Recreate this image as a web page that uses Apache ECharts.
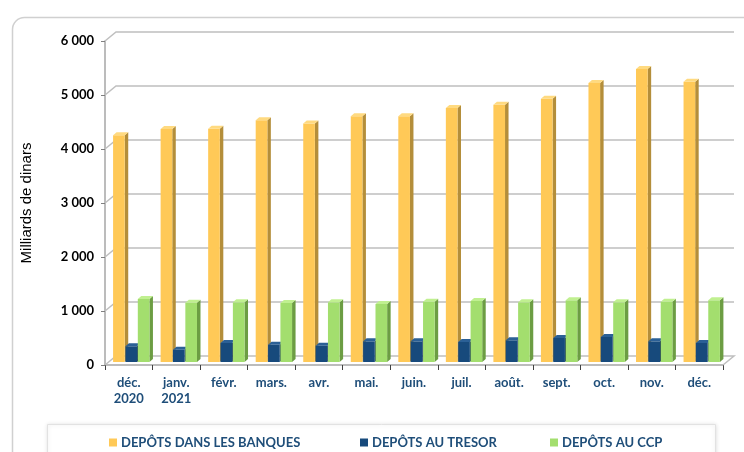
<!DOCTYPE html>
<html>
<head>
<meta charset="utf-8">
<script src="https://cdn.jsdelivr.net/npm/echarts@6/dist/echarts.min.js"></script>
<style>
  html, body { margin: 0; padding: 0; background: #fff; }
  #main { width: 744px; height: 452px; }
</style>
</head>
<body>
<div id="main"></div>
<script>
// mois
const months = ['déc.\n2020', 'janv.\n2021', 'févr.', 'mars.', 'avr.', 'mai.', 'juin.', 'juil.', 'août.', 'sept.', 'oct.', 'nov.', 'déc.'];
// dépôts (milliards de dinars)
const banques = [4200, 4315, 4320, 4475, 4415, 4550, 4550, 4705, 4765, 4875, 5165, 5425, 5190];
const tresor = [291, 228, 352, 320, 302, 383, 383, 370, 402, 444, 463, 383, 352];
const ccp = [1167, 1098, 1105, 1093, 1105, 1074, 1117, 1130, 1105, 1143, 1105, 1117, 1143];
const yTicks = [0, 1000, 2000, 3000, 4000, 5000, 6000];

const names = ['DEPÔTS DANS LES BANQUES', 'DEPÔTS AU TRESOR', 'DEPÔTS AU CCP'];
const blue = '#1F4E79';
const font = 'Lato';

// couleurs face / côté / dessus
const faces = [
  { front: '#FFC957', side: '#B48E3A', top: '#FFDA80' },
  { front: '#174A7C', side: '#0D2E50', top: '#2B6096' },
  { front: '#A3DE6E', side: '#6C9D43', top: '#C0F090' }
];

const DX = 11, DY = -9;   // décalage du mur du fond
const dx = 3.5, dy = -3;  // profondeur des barres

function cuboid(idx) {
  return function (params, api) {
    const i = api.value(0);
    const v = api.value(1);
    const band = api.size([1, 0])[0];
    const c = api.coord([i, v]);
    const b = api.coord([i, 0]);
    const w = band * 0.245;
    const x0 = c[0] - band * 0.33 + idx * band * 0.26;
    const x1 = x0 + w;
    const yt = c[1] - 3;
    const yb = b[1] - 3;
    const f = faces[idx];
    return {
      type: 'group',
      children: [
        { type: 'polygon', shape: { points: [[x1, yb], [x1 + dx, yb + dy], [x1 + dx, yt + dy], [x1, yt]] }, style: { fill: f.side } },
        { type: 'rect', shape: { x: x0, y: yt, width: w, height: yb - yt }, style: { fill: f.front } },
        { type: 'polygon', shape: { points: [[x0, yt], [x0 + dx, yt + dy], [x1 + dx, yt + dy], [x1, yt]] }, style: { fill: f.top } }
      ]
    };
  };
}

function wall(params, api) {
  const v = api.value(0);
  const band = api.size([1, 0])[0];
  const p0 = api.coord([0, v]);
  const p1 = api.coord([months.length - 1, v]);
  const l = p0[0] - band / 2;
  const r = p1[0] + band / 2;
  const y = p0[1];
  const pts = v === 0
    ? [[l, y], [l + DX, y + DY], [r + DX, y + DY], [r, y]]
    : [[l, y], [l + DX, y + DY], [r + DX, y + DY]];
  return {
    type: 'polyline',
    shape: { points: pts },
    style: { stroke: '#BFBFBF', lineWidth: 1.5, fill: null }
  };
}

const chart = echarts.init(document.getElementById('main'));

const option = {
  animation: false,
  backgroundColor: '#fff',
  graphic: [
    { type: 'rect', left: 10, top: 15, shape: { width: 770, height: 470, r: 12 }, style: { fill: 'none', stroke: '#D0D0D0', lineWidth: 1.5 }, z: -10 },
    { type: 'rect', left: 47, top: 424, shape: { width: 668, height: 40 }, style: { fill: '#fff', stroke: '#E2E2E2', lineWidth: 1, shadowBlur: 4, shadowColor: 'rgba(0,0,0,0.12)' }, z: -5 }
  ],
  grid: { left: 105, top: 41, width: 618, height: 324 },
  legend: [
    { left: 104, top: 431, data: [names[0]] },
    { left: 355, top: 431, data: [names[1]] },
    { left: 545, top: 431, data: [names[2]] }
  ].map(l => Object.assign(l, {
    icon: 'rect', itemWidth: 8, itemHeight: 8, itemGap: 4,
    textStyle: { color: blue, fontWeight: 'bold', fontSize: 13, fontFamily: font, padding: [0, 0, 0, -1] }
  })),
  xAxis: {
    type: 'category',
    data: months,
    axisLine: { lineStyle: { color: '#A6A6A6', width: 1.5 } },
    axisTick: { show: true, length: 5, lineStyle: { color: '#404040' } },
    axisLabel: { color: blue, fontWeight: 'bold', fontSize: 13, fontFamily: font, lineHeight: 16, margin: 10 }
  },
  yAxis: {
    type: 'value',
    min: 0, max: 6000, interval: 1000,
    name: 'Milliards de dinars',
    nameLocation: 'middle',
    nameRotate: 90,
    nameGap: 71,
    nameTextStyle: { color: '#000', fontSize: 15, fontFamily: 'Liberation Sans' },
    axisLine: { show: true, lineStyle: { color: '#A6A6A6', width: 1.5 } },
    axisTick: { show: true, length: 4, lineStyle: { color: '#808080' } },
    splitLine: { show: false },
    axisLabel: {
      color: '#000', fontWeight: 'bold', fontSize: 13, fontFamily: font, margin: 11,
      formatter: v => v === 0 ? '0' : (v / 1000) + ' 000'
    }
  },
  series: [
    { type: 'custom', name: 'wall', renderItem: wall, data: yTicks.map(v => [v]), encode: { y: 0 }, silent: true, z: 1 },
    { type: 'custom', name: names[0], renderItem: cuboid(0), itemStyle: { color: faces[0].front }, data: banques.map((v, i) => [i, v]), encode: { x: 0, y: 1 }, z: 2 },
    { type: 'custom', name: names[1], renderItem: cuboid(1), itemStyle: { color: faces[1].front }, data: tresor.map((v, i) => [i, v]), encode: { x: 0, y: 1 }, z: 3 },
    { type: 'custom', name: names[2], renderItem: cuboid(2), itemStyle: { color: faces[2].front }, data: ccp.map((v, i) => [i, v]), encode: { x: 0, y: 1 }, z: 4 }
  ]
};

chart.setOption(option);
</script>
</body>
</html>
